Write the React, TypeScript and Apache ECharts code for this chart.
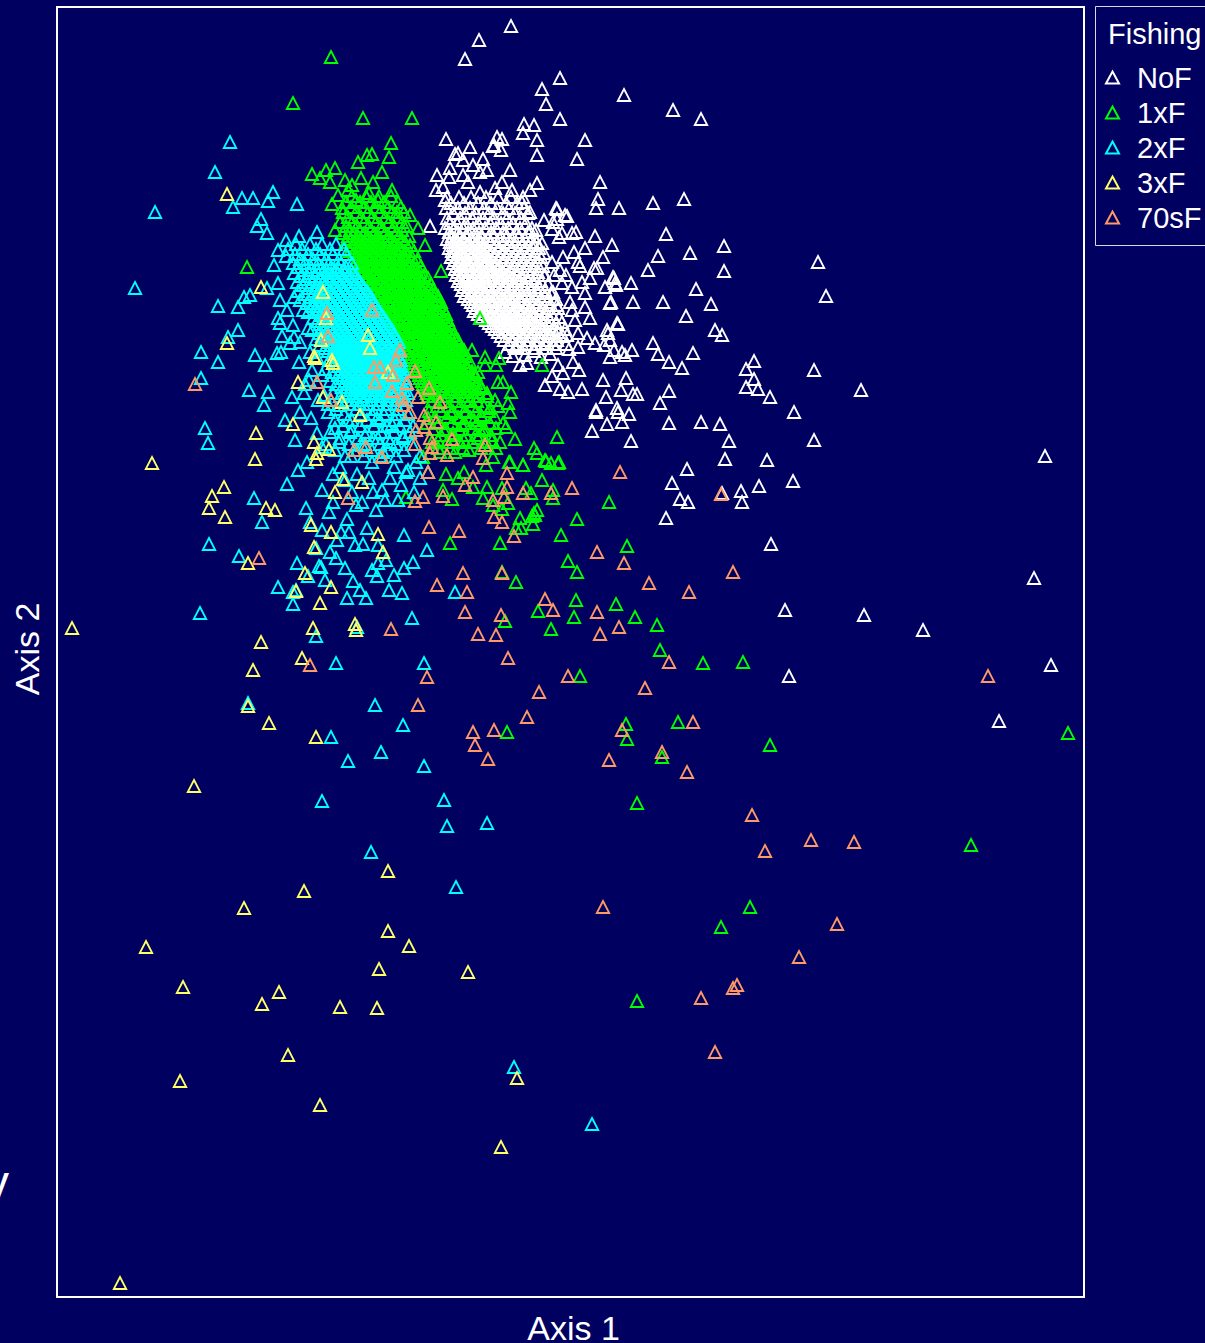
import React, { useEffect, useRef } from "react";
import * as echarts from "echarts";

type Pair = number[];
const fromRows = (rows: number[][]): Pair[] =>
  rows.flatMap(([y, ...xs]) => xs.map((x) => [x, y]));

const seriesNames = ["NoF", "1xF", "2xF", "3xF", "70sF"];
const seriesColors = ["#ffffff", "#00ff00", "#00ffff", "#ffff66", "#ff9966"];
const axisNames = ["Axis 1", "Axis 2"];
const xRange = [57, 1084];
const yRange = [7, 1297];

const nofPoints: Pair[] = [
  [511,26],[479,40],[465,59],[560,78],[542,89],[624,95],[546,104],[673,110],[701,119],[560,119],[524,124],[534,125],[523,133],[497,137],[502,139],[494,145],[585,140],[537,155],[577,159],[600,182],[598,199],[653,203],[684,199],[619,208],[596,208],[565,215],[557,209],[553,222],[562,233],[576,232],[595,236],[666,234],[612,245],[724,246],[690,253],[658,256],[818,262],[724,271],[648,270],[603,257],[597,268],[578,262],[826,296],[631,283],[614,278],[616,285],[605,287],[696,289],[663,302],[711,304],[633,302],[611,302],[686,316],[715,330],[722,335],[618,324],[653,343],[658,354],[693,353],[669,362],[682,368],[754,361],[746,369],[814,370],[754,379],[746,387],[758,389],[770,397],[861,390],[794,412],[814,440],[701,422],[720,424],[669,423],[633,394],[621,390],[637,394],[660,403],[669,391],[607,424],[592,431],[622,422],[631,441],[596,410],[617,408],[629,414],[729,441],[725,459],[767,460],[687,469],[672,483],[793,481],[759,486],[741,491],[742,502],[722,493],[680,499],[688,502],[666,518],[771,544],[785,610],[864,615],[923,630],[1034,578],[1051,665],[1045,456],[999,721],[789,676],
  [446,139],[470,147],[458,153],[455,154],[463,160],[493,146],[501,150],[537,140],[483,159],[473,165],[450,168],[437,175],[449,177],[443,187],[487,170],[480,172],[510,170],[463,175],[468,182],[480,192],[502,182],[495,188],[512,190],[537,183],[530,190],[556,208],[567,216],[557,219],[552,229],[559,237],[572,233],[542,243],[544,253],[563,257],[580,266],[594,268],[613,277],[615,283],[610,303],[544,275],[554,275],[562,283],[572,287],[582,282],[590,278],[585,293],[553,292],[570,302],[585,307],[572,310],[617,323],[607,330],[608,333],[595,343],[587,338],[578,333],[567,335],[557,340],[547,343],
  [505,352],[525,355],[550,354],[527,363],[520,365],[558,365],[579,370],[563,373],[552,376],[545,385],[603,380],[582,389],[560,389],[568,392],[606,397],[596,412],[618,412],[610,357],[573,362],[625,355],[632,350],[604,345],[610,340],[614,350],[622,352],[626,378],[430,226],[436,190],[445,200],
  [513,356],[534,351],[541,357],[516,346],[569,349],[578,347],[548,333],[562,322],[575,320],[590,318],[557,305],[566,275],[574,252],[585,248],[552,262],[560,270],[536,230],[544,220],[530,212],[522,202],
];
const nofCoreRows: number[][] = [
  [197,447,459,471,486,498,511,523],
  [203,451,464,478,491,506,517],
  [208,446,458,470,484,497,509,524],
  [213,453,465,476,489,503,515,528],
  [218,447,460,472,483,494,507,521],
  [223,450,457,466,478,490,501,513,526],
  [228,445,454,463,473,485,496,508,520,532],
  [232,449,458,468,479,491,503,516,528],
  [236,452,460,466,474,482,494,507,519,533],
  [239,447,455,463,471,478,488,500,512,525],
  [242,450,458,465,473,481,491,504,516,530,537],
  [245,453,461,468,476,484,496,509,522,534],
  [248,449,456,464,471,479,487,499,512,526,539],
  [251,452,459,467,474,482,491,503,517,530],
  [254,454,462,469,477,485,495,508,521,535],
  [257,451,458,465,472,480,488,500,513,527,541],
  [260,455,461,468,475,483,492,504,518,532],
  [263,453,460,466,473,479,487,496,509,523,537],
  [266,457,463,470,477,484,491,500,514,528,543],
  [269,455,461,468,474,481,488,497,506,519,533],
  [272,458,464,471,478,485,493,502,511,524,538],
  [275,456,463,469,476,482,490,498,507,517,530,545],
  [278,460,466,473,479,486,494,503,512,522,535],
  [281,458,465,471,477,484,491,499,508,518,528,541],
  [284,461,468,474,481,488,496,504,513,523,534,548],
  [287,464,470,477,483,490,497,505,514,525,539],
  [290,462,468,475,482,489,495,503,511,520,531,545],
  [293,466,472,479,485,492,500,508,517,527,538,551],
  [296,464,471,477,484,490,498,506,514,523,534,545],
  [299,468,475,482,488,495,502,510,519,529,541,556],
  [302,471,478,484,491,498,506,513,522,533,547],
  [305,473,480,487,493,501,508,516,526,537,551],
  [308,476,483,489,496,503,511,519,530,542,558],
  [311,474,481,488,494,500,507,515,523,533,546],
  [314,478,485,491,498,505,512,520,528,539,552],
  [317,482,489,495,502,509,516,524,533,544,559],
  [320,486,493,499,505,513,520,529,538,550],
  [323,489,496,503,509,516,524,533,543,556],
  [326,492,499,506,513,520,528,537,549],
  [329,495,502,509,516,523,531,541,553,565],
  [332,498,505,512,519,527,535,545,558],
  [336,501,509,516,523,531,540,551,563],
  [340,504,512,520,528,536,546,556],
  [344,509,518,527,536,545,553,566],
  [348,515,524,534,543,556],
];

const f1Points: Pair[] = [
  [331,57],[293,103],[363,118],[412,118],[391,143],[372,154],[389,157],[358,162],[367,155],[247,267],[480,318],[557,437],[546,461],[558,463],[537,453],[509,462],[523,465],[542,480],[553,490],[609,502],[577,519],[537,510],[532,516],[534,513],[520,518],[521,528],[561,535],[500,543],[450,543],[627,546],[568,561],[577,572],[516,582],[502,572],[576,600],[616,604],[574,617],[538,611],[635,617],[505,621],[551,629],[657,625],[660,650],[580,676],[703,663],[743,662],[678,722],[626,724],[627,739],[507,732],[770,745],[662,757],[637,803],[971,845],[750,907],[721,927],[637,1001],[1068,733],
  [485,357],[499,358],[496,365],[542,365],[503,382],[511,392],[482,388],[487,393],[495,400],[508,403],[510,412],[490,408],[481,415],[506,427],[496,428],[462,425],[444,430],[451,413],[515,439],[534,448],[479,428],[483,430],[492,440],[453,433],[464,440],[478,438],[469,450],[455,452],[440,452],[423,457],[493,457],[486,465],[510,462],[523,465],[545,460],[551,463],[559,462],[446,474],[464,472],[458,478],[487,487],[473,487],[502,488],[526,488],[531,493],[443,490],[452,499],[406,497],[483,498],[508,503],[553,498],[493,505],[502,509],[535,515],[533,524],[516,528],
  [312,174],[326,170],[335,168],[320,178],[345,180],[330,182],[352,185],[338,195],[332,204],[348,190],[361,178],[373,182],[382,172],[369,193],[392,190],[356,200],[342,208],[378,200],[397,212],[410,215],[335,230],[418,228],[425,245],[441,271],[438,300],[448,320],[458,340],[472,350],[485,365],[478,372],[498,382],[470,400],[466,412],[474,420],[460,418],[428,418],[438,440],
];
const f1CoreRows: number[][] = [
  [196,352,366,379,391],
  [202,346,360,371,384,398],
  [207,351,364,376,388,401],
  [212,343,356,368,380,392,404],
  [217,348,361,372,385,397],
  [222,340,352,364,376,389,402],
  [226,346,357,369,381,394,407],
  [230,350,360,371,382,392,402],
  [233,343,354,364,374,385,396],
  [236,348,358,367,377,388,399,409],
  [239,351,361,371,380,391,402],
  [242,346,356,365,375,385,394,405],
  [245,352,360,369,379,388,398,410],
  [248,356,364,373,383,392,401],
  [251,350,359,368,377,386,396,405,414],
  [254,354,363,372,381,390,399,408],
  [257,358,367,376,385,394,403,412],
  [260,361,370,379,388,397,406,417],
  [263,364,373,382,391,400,409],
  [266,360,368,377,386,395,404,413,421],
  [269,371,380,389,398,407,416],
  [272,368,375,384,393,402,411,420],
  [275,379,388,397,406,415,424],
  [278,376,383,392,401,410,419,428],
  [281,387,395,404,413,422],
  [284,381,390,398,407,416,425,431],
  [287,385,394,402,411,420,429],
  [290,389,397,405,414,423,433],
  [293,392,400,408,417,426,435],
  [296,388,395,403,412,421,429,438],
  [299,398,406,415,424,432],
  [302,393,401,410,418,427,436,441],
  [305,397,404,413,421,430,439],
  [308,400,408,416,425,433,443],
  [311,403,411,419,428,437],
  [314,399,406,414,423,431,440,446],
  [317,409,417,426,434,443],
  [320,404,412,420,429,437,445],
  [323,407,415,423,432,440,449],
  [326,410,418,426,435,443],
  [329,413,421,429,438,446,452],
  [332,408,416,424,433,441,449],
  [335,419,427,436,444,453],
  [338,414,422,430,439,447,456],
  [341,417,425,433,442,450],
  [344,420,428,436,445,453,459],
  [347,423,431,439,448,456],
  [350,418,426,434,442,451,459,464],
  [353,429,437,445,454,462],
  [356,424,432,440,448,457,465],
  [359,427,435,443,451,460],
  [362,430,438,446,454,463,470],
  [365,433,441,449,457,466],
  [368,428,436,444,452,460,468],
  [371,439,447,455,463,472],
  [374,434,442,450,458,466,475],
  [377,437,445,453,461,470],
  [380,440,448,456,464,473],
  [383,436,443,451,459,467,476],
  [386,446,454,462,470,480],
  [389,441,449,457,465,474],
  [392,444,452,460,468,478],
  [396,438,447,456,464,473,487],
  [401,432,444,455,466,477],
  [406,437,449,460,472,484,498],
  [411,429,441,453,464,476,489],
  [417,435,447,458,470,482,495],
  [423,427,439,452,465,477,490,503],
  [429,433,446,459,472,485],
  [435,441,452,466,479,491],
  [442,432,447,460,472,486,500],
  [448,438,450,463,481,496],
];
const f1SeamRows: number[][] = [
  [264,355,360],[267,357,362],[270,358,364],[273,361,367],[276,362,369],[279,365,372],[282,366,374],[285,369,377],
  [288,370,378],[291,373,381],[294,374,382],[297,377,385],[300,378,387],[303,381,389],[306,381,390],[309,384,393],
  [312,385,394],[315,388,396],[318,390,398],[321,392,400],[324,393,401],[327,395,403],[330,396,404],[333,398,406],
  [336,399,408],[339,401,410],[342,402,411],[345,404,413],[348,405,414],[351,407,416],[354,408,417],[357,410,419],
  [360,411,420],[363,413,422],[366,414,423],[369,416,425],[372,417,426],[375,419,428],[378,420,429],[381,422,430],
  [384,423,431],[387,425,433],[390,426,434],[393,427,435],[396,428,433],
];

const f2Points: Pair[] = [
  [230,142],[215,172],[155,212],[233,207],[242,198],[253,198],[273,192],[268,201],[297,204],[261,219],[257,226],[267,233],[317,232],[299,236],[286,240],[278,250],[274,265],[286,256],[278,283],[267,288],[250,295],[244,297],[135,288],[218,306],[238,307],[280,300],[294,297],[287,310],[278,318],[280,323],[238,330],[228,337],[282,336],[294,337],[290,343],[303,310],[293,325],[308,328],
  [201,352],[218,362],[201,378],[255,355],[265,365],[277,353],[249,390],[268,392],[264,405],[292,397],[205,428],[208,443],[287,484],[254,498],[306,508],[262,522],[209,544],[239,556],[297,563],[278,587],[293,604],[200,613],[316,636],[336,663],[424,663],[248,703],[375,705],[403,725],[331,737],[381,752],[348,761],[424,766],[444,800],[322,801],[487,823],[447,826],[371,852],[456,887],[514,1067],[592,1124],[455,592],[357,627],[412,618],
  [281,352],[299,362],[305,384],[312,370],[322,375],[300,342],[310,352],[318,400],[328,412],[311,418],[335,428],[348,420],[317,433],[322,447],[339,442],[351,456],[362,445],[372,462],[383,452],[394,467],[406,472],[416,462],[390,478],[401,485],[322,490],[333,502],[347,519],[362,502],[376,510],[385,500],[367,528],[355,545],[363,544],[404,535],[427,550],[321,567],[336,558],[308,576],[353,581],[378,563],[389,590],[347,598],[360,590],[402,593],[394,575],[404,568],[413,562],[377,576],[319,566],[296,590],[293,592],[341,532],[329,512],[310,522],[322,530],[398,500],[414,492],[340,467],[357,474],[369,478],[382,490],[352,492],[309,380],[304,393],[324,395],[340,405],[352,430],[365,435],[378,438],[390,442],[403,436],[377,418],[392,424],
  [345,480],[333,474],[373,492],[356,505],[349,532],[337,540],[378,545],[372,570],[386,560],[345,568],[330,552],[316,548],[325,580],[366,598],[408,470],[420,478],[428,472],[300,412],[285,420],[295,440],[307,462],[298,470],
];
const f2CoreRows: number[][] = [
  [244,296,310,322,336],
  [249,288,302,316,330,344],
  [254,295,308,320,333,346],
  [259,300,313,326,339],
  [263,293,305,318,329,341,352],
  [267,298,311,322,331,338,346],
  [270,304,317,327,335,343,351],
  [273,294,309,322,331,338,345,353],
  [276,301,315,326,333,340,348,356],
  [279,306,320,328,336,343,350,358],
  [282,297,312,323,330,337,345,352,360],
  [285,303,316,325,333,340,347,354,362],
  [288,309,320,327,335,342,349,357,364],
  [291,298,314,322,330,337,344,351,359,367],
  [294,305,318,325,332,339,346,354,361,369],
  [297,311,320,327,334,341,348,356,363,371],
  [300,300,315,322,329,336,343,350,358,365,373],
  [303,307,318,325,331,338,345,352,360,367,374],
  [306,313,320,327,333,340,347,354,362,369,376],
  [309,316,323,329,336,342,349,356,363,371,378],
  [312,308,318,325,331,338,344,351,358,365,373,380],
  [315,321,327,333,340,346,353,360,367,375,382],
  [318,313,323,329,336,342,348,355,362,369,376,384],
  [321,317,325,331,338,344,351,357,364,371,378,386],
  [324,320,327,333,340,346,353,359,366,373,380,388],
  [327,322,329,336,342,348,355,361,368,375,382,390],
  [330,312,324,331,338,344,350,357,363,370,377,384,392],
  [333,319,327,333,340,346,352,359,365,372,379,386,394],
  [336,322,329,336,342,348,354,361,367,374,381,388,395],
  [339,316,325,332,338,344,350,356,363,369,376,383,390,397],
  [342,328,334,341,347,353,359,365,371,378,385,392,399],
  [345,320,331,337,343,349,355,361,367,374,381,388,394],
  [348,325,334,340,346,352,358,364,370,376,383,390,397],
  [351,328,337,343,349,355,361,367,373,379,386,393,399],
  [354,333,340,346,352,358,364,370,376,382,389,396],
  [357,317,336,343,349,355,361,367,373,379,385,392,399],
  [360,329,340,346,352,358,364,370,376,382,388,395,401],
  [363,335,343,349,355,361,367,373,379,385,391,398],
  [366,338,346,352,358,364,370,376,382,388,394,400],
  [369,325,341,349,355,361,367,373,379,385,391,397,403],
  [372,332,344,352,358,364,370,376,382,388,394,400],
  [375,338,347,354,360,366,372,378,384,390,396,403],
  [378,342,350,356,362,368,374,380,386,392,398,405],
  [381,330,345,353,359,365,371,377,383,389,395,401],
  [384,336,348,356,362,368,374,380,386,392,398,406],
  [387,342,351,358,364,370,376,382,388,394,400],
  [390,346,354,360,366,372,378,384,390,397,404],
  [393,333,349,357,363,369,375,381,388,395,408],
  [396,340,352,360,367,373,380,387,394,402],
  [400,346,356,364,372,380,388,397,406],
  [404,328,350,360,369,378,387,396],
  [409,336,356,366,376,386,398],
  [414,344,361,372,384,396,408],
  [420,335,352,367,380,395,405],
  [426,343,360,374,387,400,413],
  [432,330,350,367,381,394,410],
  [438,340,358,373,388,403],
  [444,326,349,365,380,396,412],
  [450,335,357,372,388,404],
  [456,345,364,380,396,420],
];

const f3Points: Pair[] = [
  [72,628],[152,463],[227,194],[261,287],[227,343],[315,358],[333,363],[298,382],[314,356],[332,360],[323,397],[342,402],[360,415],[293,424],[256,433],[314,442],[329,449],[317,453],[316,459],[255,459],[343,479],[362,482],[335,492],[224,487],[212,496],[209,508],[225,517],[266,508],[275,510],[311,525],[331,532],[378,534],[314,547],[383,552],[248,563],[296,591],[305,573],[331,587],[320,603],[313,628],[356,630],[355,624],[368,335],[323,292],[326,318],[321,340],[261,642],[253,670],[302,658],[248,706],[269,723],[316,737],[194,786],[388,871],[304,891],[244,908],[146,947],[388,931],[409,946],[379,969],[468,972],[183,987],[279,992],[262,1004],[340,1007],[377,1008],[288,1055],[180,1081],[517,1078],[320,1105],[501,1147],[120,1283],[370,348],[388,372],
];

const f70Points: Pair[] = [
  [195,384],[317,382],[331,400],[354,450],[366,447],[382,457],[348,498],[259,558],[374,367],[380,367],[375,382],[392,391],[393,375],[372,310],[327,313],[328,336],
  [415,371],[429,388],[407,383],[440,402],[418,397],[403,405],[410,412],[424,415],[436,422],[424,427],[416,430],[430,438],[415,444],[452,439],[432,447],[430,453],[447,455],[485,445],[483,458],[428,472],[473,477],[465,485],[443,496],[423,497],[415,501],[507,473],[507,487],[504,497],[493,500],[523,493],[494,517],[502,522],[551,493],[572,488],[429,527],[459,531],[514,536],[597,552],[620,472],[400,350],[396,360],[402,398],
  [721,494],[624,563],[733,572],[649,583],[689,592],[463,573],[437,585],[467,592],[502,573],[545,599],[553,610],[597,612],[465,612],[501,615],[478,634],[496,635],[391,629],[600,634],[619,627],[508,658],[310,665],[427,677],[568,676],[669,662],[645,688],[539,692],[418,705],[527,717],[494,730],[473,732],[475,745],[488,759],[622,730],[693,722],[662,752],[609,760],[687,772],[752,815],[811,840],[854,842],[765,851],[603,907],[837,924],[799,957],[737,985],[733,988],[701,998],[715,1052],[988,676],
];

const seriesData: Pair[][] = [
  [...fromRows(nofCoreRows), ...nofPoints],
  [...fromRows(f1CoreRows), ...fromRows(f1SeamRows), ...f1Points],
  [...fromRows(f2CoreRows), ...f2Points],
  f3Points,
  f70Points,
];

export default function App() {
  const ref = useRef<HTMLDivElement>(null);
  useEffect(() => {
    const chart = echarts.init(ref.current!, undefined, { renderer: "svg" });
    const hiddenAxisParts = {
      axisLine: { show: false },
      axisTick: { show: false },
      axisLabel: { show: false },
      splitLine: { show: false },
    };
    const nameStyle = {
      color: "#ffffff",
      fontSize: 34,
      fontFamily: "Liberation Sans",
      padding: [0, 0, 0, 6],
    };
    chart.setOption({
      animation: false,
      backgroundColor: "#000060",
      grid: {
        show: true,
        left: 57,
        top: 7,
        width: 1027,
        height: 1290,
        outerBoundsMode: "none",
        borderColor: "#ffffff",
        borderWidth: 2,
        backgroundColor: "transparent",
      },
      xAxis: {
        type: "value",
        min: xRange[0],
        max: xRange[1],
        name: axisNames[0],
        nameLocation: "middle",
        nameGap: 14,
        nameTextStyle: nameStyle,
        ...hiddenAxisParts,
      },
      yAxis: {
        type: "value",
        inverse: true,
        min: yRange[0],
        max: yRange[1],
        name: axisNames[1],
        nameLocation: "middle",
        nameGap: 13,
        nameTextStyle: nameStyle,
        ...hiddenAxisParts,
      },
      legend: {
        orient: "vertical",
        left: 1105,
        top: 63,
        padding: 0,
        itemWidth: 13,
        itemHeight: 12,
        itemGap: 6,
        selectedMode: false,
        data: seriesNames.map((name) => ({ name, icon: "triangle" })),
        textStyle: {
          color: "#ffffff",
          fontSize: 29,
          fontFamily: "Liberation Sans",
          padding: [0, 0, 0, 13],
        },
      },
      graphic: [
        {
          type: "rect",
          shape: { x: 1095.5, y: 6.5, width: 130, height: 239 },
          style: { fill: "none", stroke: "#d8d8e8", lineWidth: 1 },
        },
        {
          type: "text",
          x: 1108,
          y: 19,
          style: { text: "Fishing", fill: "#ffffff", font: "29px 'Liberation Sans'" },
        },
        {
          type: "text",
          x: -15,
          y: 1158,
          style: { text: "y", fill: "#ffffff", font: "48px 'Liberation Sans'" },
        },
      ],
      series: seriesNames.map((name, i) => ({
        name,
        type: "scatter",
        symbol: "triangle",
        symbolSize: [12.5, 12],
        data: seriesData[i],
        itemStyle: {
          color: "transparent",
          borderColor: seriesColors[i],
          borderWidth: 1.8,
          opacity: 1,
        },
        emphasis: { disabled: true },
      })),
    });
    return () => chart.dispose();
  }, []);
  return (
    <div
      ref={ref}
      style={{ position: "fixed", left: 0, top: 0, width: 1205, height: 1343 }}
    />
  );
}
